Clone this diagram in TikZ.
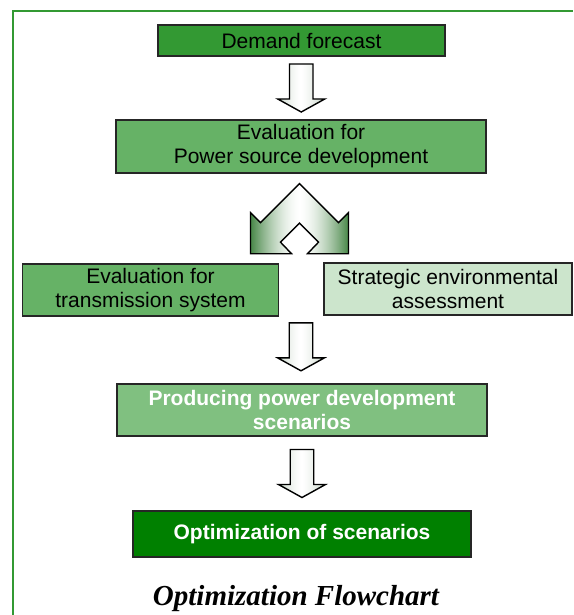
\documentclass[tikz,border=0pt]{standalone}
\usepackage{fontspec}
\setmainfont{Liberation Sans}
\newfontfamily\titlefont{Liberation Serif}
\usetikzlibrary{calc}

\definecolor{framegreen}{HTML}{339933}
\definecolor{demandfill}{HTML}{339933}
\definecolor{midfill}{HTML}{66B266}
\definecolor{palefill}{HTML}{CCE5CC}
\definecolor{prodfill}{HTML}{80C080}
\definecolor{optfill}{HTML}{008000}
\definecolor{arrowgrey}{HTML}{C4D2C4}
\definecolor{chevdark}{HTML}{2F772F}

% outlines of the block arrows (local coordinates, y pointing down)
\newcommand\dnarrowpath{(-11.75,-24) -- (11.75,-24) -- (11.75,11) -- (23.5,11)
  -- (0,24) -- (-23.5,11) -- (-11.75,11) -- cycle}
\newcommand\splitpath{(0,-35) -- (39,4) -- (49,-6) -- (49,35) -- (8,35)
  -- (19,23.5) -- (0,4.5) -- (-19,23.5) -- (-8,35) -- (-49,35)
  -- (-49,-6) -- (-39,4) -- cycle}

\tikzset{
  stagebox/.style={draw=black!85, line width=1.4pt, inner sep=0pt,
    align=center, font=\fontsize{21}{24}\selectfont},
  boldbox/.style={stagebox, text=white, font=\fontsize{21}{24}\selectfont\bfseries},
  arrowline/.style={draw=black, line width=1.4pt, line join=miter},
  % down block arrow, filled with a light horizontal gradient
  downarrow/.pic={
    \begin{scope}
      \clip \dnarrowpath;
      \foreach \i in {0,...,47} {
        \pgfmathsetmacro\shadeamt{(abs(\i-23.5)/23.5)^1.5*100}
        \fill[arrowgrey!\shadeamt!white] (-24+\i,-26) rectangle ++(1.2,52);
      }
    \end{scope}
    \path[arrowline] \dnarrowpath;
  },
  % two-headed split arrow, white in the middle and green at the heads
  splitpic/.pic={
    \begin{scope}
      \clip \splitpath;
      \foreach \i in {0,...,99} {
        \pgfmathsetmacro\shadeamt{(abs(\i-49.5)/49.5)^1.6*90}
        \fill[chevdark!\shadeamt!white] (-50+\i,-36) rectangle ++(1.2,72);
      }
    \end{scope}
    \path[arrowline] \splitpath;
  },
}

\begin{document}
\begin{tikzpicture}[x=1pt, y=-1pt]
  \useasboundingbox[fill=white] (0,0) rectangle (573,615);

  % outer frame
  \draw[framegreen, line width=2.5pt] (13,615) -- (13,11) -- (573,11);

  % stages
  \node[stagebox, fill=demandfill, minimum width=287pt, minimum height=31pt]
    (demand) at (301.5,40.5) {Demand forecast};
  \node[stagebox, fill=midfill, minimum width=370pt, minimum height=53pt]
    (evalpow) at (301,146.5) {Evaluation for\\Power source development};
  \node[stagebox, fill=midfill, minimum width=256pt, minimum height=52pt]
    (evaltr) at (150.5,290) {Evaluation for\\transmission system};
  \node[stagebox, fill=palefill, minimum width=248pt, minimum height=52pt]
    (sea) at (448,289) {Strategic environmental\\assessment};
  \node[boldbox, fill=prodfill, minimum width=370pt, minimum height=52pt]
    (prod) at (302,410) {Producing power development\\scenarios};
  \node[boldbox, fill=optfill, minimum width=338pt, minimum height=46pt]
    (opt) at (302,534) {Optimization of scenarios};

  % block arrows between the stages
  \pic (arrA) at ($(demand.south)!0.5!(evalpow.north)$) {downarrow};
  \pic (split) at ($(evalpow.south)+(-1.5,45)$) {splitpic};
  \pic (arrB) at ($(prod.north)+(-1,-36.5)$) {downarrow};
  \pic (arrC) at ($(prod.south)!0.5!(opt.north)$) {downarrow};

  % caption
  \node[anchor=base, inner sep=0pt,
    font=\titlefont\bfseries\itshape\fontsize{29}{32}\selectfont]
    (title) at (296,605) {Optimization Flowchart};
\end{tikzpicture}
\end{document}
